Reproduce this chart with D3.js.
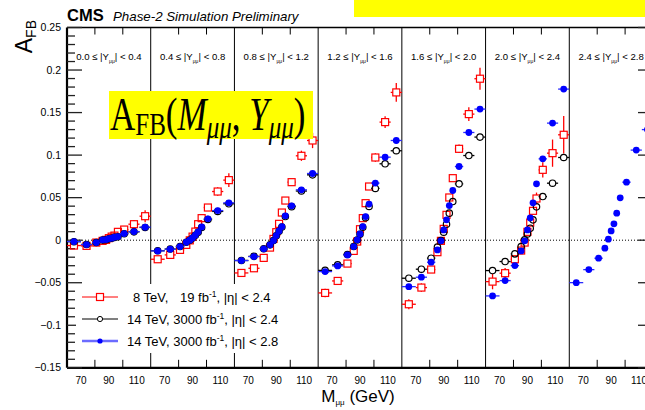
<!DOCTYPE html>
<html>
<head>
<meta charset="utf-8">
<script src="https://d3js.org/d3.v7.min.js"></script>
<style>
body { margin: 0; background: #fff; }
text { font-family: "Liberation Sans", Arial, sans-serif; }
</style>
</head>
<body>
<svg width="645" height="410"></svg>
<script>
// mass bins (GeV) shared by all rapidity panels
var massEdges = [60, 70, 78, 84, 87, 89, 91, 93, 95, 98, 104, 112, 120];
var rapBins = ["0.0", "0.4", "0.8", "1.2", "1.6", "2.0", "2.4", "2.8"];
var xTickLabels = [70, 90, 110];
var xMinorTicks = [80, 100];
var yTicks = [-0.15, -0.1, -0.05, 0, 0.05, 0.1, 0.15, 0.2, 0.25];
var yTickLabels = ["\u22120.15", "\u22120.1", "\u22120.05", "0", "0.05", "0.1", "0.15", "0.2", "0.25"];

// 8 TeV, 19 fb-1 (red squares), one row per |Y| panel
var afb8 = [
  [-0.0063, -0.0067, -0.0028, -0.0008, 0.0004, 0.0024, 0.0042, 0.0054, 0.0098, 0.0125, 0.0188, 0.0282],
  [-0.0224, -0.0173, -0.0114, -0.0055, -0.0002, 0.0042, 0.0101, 0.0188, 0.0259, 0.0384, 0.0572, 0.0706],
  [-0.0385, -0.033, -0.0208, -0.0087, 0.0015, 0.0094, 0.0192, 0.0325, 0.0466, 0.0682, 0.0992, 0.1172],
  [-0.062, -0.0479, -0.0275, -0.0126, -0.0016, 0.0129, 0.0259, 0.0435, 0.0631, 0.0972, 0.1388, 0.1737],
  [-0.0753, -0.0557, -0.0345, -0.0141, -0.0008, 0.0133, 0.0298, 0.0502, 0.0729, 0.1074, 0.1482, 0.1898],
  [-0.0487, -0.0388, -0.0224, -0.0122, -0.0028, 0.0098, 0.0207, 0.0345, 0.049, 0.0827, 0.1023, 0.1239]
];
var err8 = [
  [0.003, 0.003, 0.002, 0.002, 0.002, 0.002, 0.002, 0.002, 0.003, 0.004, 0.005, 0.007],
  [0.003, 0.003, 0.002, 0.002, 0.002, 0.002, 0.002, 0.002, 0.003, 0.004, 0.005, 0.008],
  [0.004, 0.003, 0.003, 0.002, 0.002, 0.002, 0.002, 0.002, 0.003, 0.004, 0.006, 0.009],
  [0.005, 0.004, 0.003, 0.002, 0.002, 0.002, 0.002, 0.003, 0.003, 0.005, 0.007, 0.011],
  [0.006, 0.005, 0.004, 0.003, 0.002, 0.002, 0.003, 0.003, 0.004, 0.005, 0.008, 0.013],
  [0.009, 0.006, 0.004, 0.003, 0.003, 0.003, 0.003, 0.004, 0.007, 0.009, 0.016, 0.022]
];
// 14 TeV, 3000 fb-1, |eta| < 2.4 (black open circles)
var afb14 = [
  [-0.0018, -0.005, -0.0028, 0.0002, 0.0006, 0.0017, 0.0023, 0.0033, 0.004, 0.0075, 0.0098, 0.015],
  [-0.0124, -0.0104, -0.0074, -0.0024, 0.0, 0.0026, 0.0057, 0.0094, 0.015, 0.0243, 0.0338, 0.0428],
  [-0.0238, -0.019, -0.0101, -0.0055, -0.0004, 0.0052, 0.0105, 0.0155, 0.0278, 0.0394, 0.0578, 0.0768],
  [-0.0355, -0.029, -0.0168, -0.0074, 0.0002, 0.007, 0.0152, 0.0265, 0.0396, 0.0608, 0.0898, 0.1051],
  [-0.0447, -0.0341, -0.0212, -0.0082, -0.0004, 0.0094, 0.0188, 0.0318, 0.0454, 0.0662, 0.0995, 0.1212],
  [-0.0357, -0.0251, -0.0161, -0.0075, 0.0004, 0.0074, 0.0141, 0.0239, 0.0392, 0.0513, 0.067, 0.0972]
];
// 14 TeV, 3000 fb-1, |eta| < 2.8 (blue filled circles)
var afb14w = [
  [-0.0016, -0.0052, -0.0028, 0.0004, 0.0007, 0.0019, 0.0024, 0.0035, 0.0042, 0.0078, 0.0101, 0.0153],
  [-0.0126, -0.0106, -0.0075, -0.0024, 0.0, 0.0027, 0.0059, 0.0098, 0.0156, 0.0251, 0.0348, 0.0439],
  [-0.024, -0.0193, -0.0102, -0.0055, -0.0005, 0.0054, 0.0109, 0.016, 0.0286, 0.0404, 0.0592, 0.0784],
  [-0.0369, -0.0302, -0.0173, -0.0075, 0.0004, 0.0074, 0.016, 0.0278, 0.0424, 0.0671, 0.0976, 0.1172],
  [-0.0546, -0.0435, -0.0259, -0.0114, -0.0008, 0.0121, 0.0239, 0.0407, 0.0584, 0.0866, 0.1266, 0.1541],
  [-0.0655, -0.0475, -0.0299, -0.0126, -0.0008, 0.0121, 0.0262, 0.0439, 0.0662, 0.0956, 0.1376, 0.1776],
  [-0.0499, -0.0346, -0.0212, -0.0094, 0.0012, 0.0109, 0.0192, 0.0318, 0.0498, 0.0682, 0.1059, 0.13]
];

var svg = d3.select("svg");
var pLeft = 67, pRight = 653, pTop = 27.5, pBottom = 367.8;
var nPanels = 7;
var panelX = d3.scaleLinear().domain([0, nPanels]).range([pLeft, pRight]);
var pw = panelX(1) - panelX(0);
var massX = d3.scaleLinear().domain([60, 120]).range([0, pw]);
var y = d3.scaleLinear().domain([-0.15, 0.25]).range([pBottom, pTop]);

function mx(panel, m) {
  return panelX(panel) + massX(m);
}

// zero line
svg.append("line")
  .attr("x1", pLeft).attr("x2", pRight)
  .attr("y1", y(0)).attr("y2", y(0))
  .attr("stroke", "#000").attr("stroke-width", 1)
  .attr("stroke-dasharray", "1,2");

// panel separators
d3.range(1, nPanels).forEach(function(i) {
  svg.append("line")
    .attr("x1", panelX(i)).attr("x2", panelX(i))
    .attr("y1", pTop).attr("y2", pBottom)
    .attr("stroke", "#000").attr("stroke-width", 1);
});

// frame
svg.append("line").attr("x1", pLeft).attr("x2", pRight).attr("y1", pTop).attr("y2", pTop)
  .attr("stroke", "#000").attr("stroke-width", 1.5);
svg.append("line").attr("x1", pLeft).attr("x2", pRight).attr("y1", pBottom).attr("y2", pBottom)
  .attr("stroke", "#000").attr("stroke-width", 2.2);
svg.append("line").attr("x1", pLeft).attr("x2", pLeft).attr("y1", pTop).attr("y2", pBottom)
  .attr("stroke", "#000").attr("stroke-width", 2.2);
svg.append("line").attr("x1", pRight).attr("x2", pRight).attr("y1", pTop).attr("y2", pBottom)
  .attr("stroke", "#000").attr("stroke-width", 1.5);

// y ticks (left and right)
var minor = d3.range(-15, 26).map(function(k) { return k / 100; });
minor.forEach(function(v) {
  var isMajor = Math.abs(Math.round(v * 100) % 5) === 0;
  var len = isMajor ? 15 : 8;
  svg.append("line").attr("x1", pLeft).attr("x2", pLeft + len)
    .attr("y1", y(v)).attr("y2", y(v)).attr("stroke", "#222").attr("stroke-width", 1.3);
  svg.append("line").attr("x1", pRight).attr("x2", pRight - len)
    .attr("y1", y(v)).attr("y2", y(v)).attr("stroke", "#222").attr("stroke-width", 1.3);
});
svg.selectAll("text.ytick").data(yTicks).enter().append("text")
  .attr("class", "ytick")
  .attr("x", pLeft - 6).attr("y", function(d) { return y(d) + 3.5; })
  .attr("text-anchor", "end").attr("font-size", 10.5)
  .text(function(d, i) { return yTickLabels[i]; });

// x ticks + labels per panel
d3.range(nPanels).forEach(function(p) {
  xMinorTicks.forEach(function(m) {
    svg.append("line").attr("x1", mx(p, m)).attr("x2", mx(p, m))
      .attr("y1", pBottom).attr("y2", pBottom - 8).attr("stroke", "#000");
    svg.append("line").attr("x1", mx(p, m)).attr("x2", mx(p, m))
      .attr("y1", pTop).attr("y2", pTop + 7).attr("stroke", "#000");
  });
  xTickLabels.forEach(function(m) {
    svg.append("text").attr("x", mx(p, m)).attr("y", 383.5)
      .attr("text-anchor", "middle").attr("font-size", 10).text(m);
  });
  // rapidity label
  var t = svg.append("text").attr("x", panelX(p + 0.5)).attr("y", 60)
    .attr("text-anchor", "middle").attr("font-size", 9.6);
  t.append("tspan").text(rapBins[p] + " \u2264 |Y");
  t.append("tspan").attr("font-size", 5).attr("dy", 3).text("\u03bc\u03bc");
  t.append("tspan").attr("dy", -3).text("| < " + rapBins[p + 1]);
});

// series drawing: error bars leave a gap around the marker
function drawSeries(vals, errs, color, barColor, gap, marker) {
  vals.forEach(function(row, p) {
    var g = svg.append("g");
    row.forEach(function(v, j) {
      var cx = mx(p, (massEdges[j] + massEdges[j + 1]) / 2);
      var cy = y(v);
      var xl = mx(p, massEdges[j]), xr = mx(p, massEdges[j + 1]);
      if (xl < cx - gap) g.append("line").attr("x1", xl).attr("x2", cx - gap).attr("y1", cy).attr("y2", cy)
        .attr("stroke", barColor).attr("stroke-width", 1.3);
      if (xr > cx + gap) g.append("line").attr("x1", cx + gap).attr("x2", xr).attr("y1", cy).attr("y2", cy)
        .attr("stroke", barColor).attr("stroke-width", 1.3);
      if (errs) {
        var e = errs[p][j];
        var yt = y(v + e), yb = y(v - e);
        if (yt < cy - gap) g.append("line").attr("x1", cx).attr("x2", cx).attr("y1", yt).attr("y2", cy - gap)
          .attr("stroke", barColor).attr("stroke-width", 1.3);
        if (yb > cy + gap) g.append("line").attr("x1", cx).attr("x2", cx).attr("y1", cy + gap).attr("y2", yb)
          .attr("stroke", barColor).attr("stroke-width", 1.3);
      }
      marker(g, cx, cy, color);
    });
  });
}
function square(g, cx, cy, c) {
  g.append("rect").attr("x", cx - 3.5).attr("y", cy - 3.5).attr("width", 7).attr("height", 7)
    .attr("fill", "none").attr("stroke", c).attr("stroke-width", 1.2);
}
function openCircle(g, cx, cy, c) {
  g.append("circle").attr("cx", cx).attr("cy", cy).attr("r", 3.2)
    .attr("fill", "none").attr("stroke", c).attr("stroke-width", 1.2);
}
function dot(g, cx, cy, c) {
  g.append("circle").attr("cx", cx).attr("cy", cy).attr("r", 3.4).attr("fill", c);
}

drawSeries(afb8, err8, "#ff0000", "#ff0000", 3.5, square);
drawSeries(afb14, null, "#000", "#000", 3.2, openCircle);
drawSeries(afb14w, null, "#0000ff", "#2a2aff", 0, dot);

// legend
svg.append("rect").attr("x", 76).attr("y", 284).attr("width", 218).attr("height", 69).attr("fill", "#fff");
var legY = [297, 319, 341];
var lg = svg.append("g");
lg.append("line").attr("x1", 82).attr("x2", 118).attr("y1", legY[0]).attr("y2", legY[0]).attr("stroke", "#ff0000");
lg.append("rect").attr("x", 96.5).attr("y", legY[0] - 3.5).attr("width", 7).attr("height", 7)
  .attr("fill", "#fff").attr("stroke", "#ff0000").attr("stroke-width", 1.2);
lg.append("line").attr("x1", 82).attr("x2", 118).attr("y1", legY[1]).attr("y2", legY[1]).attr("stroke", "#000");
lg.append("circle").attr("cx", 100).attr("cy", legY[1]).attr("r", 2.6)
  .attr("fill", "#fff").attr("stroke", "#000").attr("stroke-width", 1);
lg.append("line").attr("x1", 82).attr("x2", 118).attr("y1", legY[2]).attr("y2", legY[2])
  .attr("stroke", "#6b6bff").attr("stroke-width", 2.5);
lg.append("circle").attr("cx", 100).attr("cy", legY[2]).attr("r", 2.6).attr("fill", "#0000ff");

function legText(x, yy, pre, lumi, eta) {
  var t = lg.append("text").attr("x", x).attr("y", yy + 4.5).attr("font-size", 13);
  t.append("tspan").text(pre);
  t.append("tspan").text(lumi + " fb");
  t.append("tspan").attr("dy", -5).attr("font-size", 8.5).text("-1");
  t.append("tspan").attr("dy", 5).text(", |\u03b7| < " + eta);
  return t;
}
lg.append("text").attr("x", 133).attr("y", legY[0] + 4.5).attr("font-size", 13).text("8 TeV,");
legText(180, legY[0], "", "19", "2.4");
legText(127, legY[1], "14 TeV, ", "3000", "2.4");
legText(127, legY[2], "14 TeV, ", "3000", "2.8");

// axis titles
var xt = svg.append("text").attr("x", 358).attr("y", 402).attr("text-anchor", "middle").attr("font-size", 17);
xt.append("tspan").text("M");
xt.append("tspan").attr("font-size", 8).attr("dy", 3).text("\u03bc\u03bc");
xt.append("tspan").attr("dy", -3).text(" (GeV)");

var ytl = svg.append("text").attr("transform", "translate(32,20) rotate(-90)")
  .attr("text-anchor", "end").attr("font-size", 23);
ytl.append("tspan").text("A");
ytl.append("tspan").attr("font-size", 14).attr("dy", 4).text("FB");

// header
svg.append("text").attr("x", 67).attr("y", 21).attr("font-size", 16.5).attr("font-weight", "bold").text("CMS");
svg.append("text").attr("x", 113).attr("y", 21).attr("font-size", 13.3).attr("font-style", "italic")
  .text("Phase-2 Simulation Preliminary");

// yellow boxes
svg.append("rect").attr("x", 354).attr("y", 0).attr("width", 291).attr("height", 17).attr("fill", "#ffff00");
svg.append("rect").attr("x", 109).attr("y", 91).attr("width", 204).attr("height", 48).attr("fill", "#ffff00");
var lbl = svg.append("text").attr("transform", "translate(110,130) scale(1,1.3)")
  .attr("font-size", 35).style("font-family", "'Liberation Serif', 'DejaVu Serif', serif");
lbl.append("tspan").text("A");
lbl.append("tspan").attr("font-size", 25).attr("dy", 4).text("FB");
lbl.append("tspan").attr("dy", -4).text("(");
lbl.append("tspan").attr("font-style", "italic").text("M");
lbl.append("tspan").attr("font-style", "italic").attr("font-size", 25).attr("dy", 6).text("\u03bc\u03bc");
lbl.append("tspan").attr("dy", -6).text(", ");
lbl.append("tspan").attr("font-style", "italic").text("Y");
lbl.append("tspan").attr("font-style", "italic").attr("font-size", 25).attr("dy", 6).text("\u03bc\u03bc");
lbl.append("tspan").attr("dy", -6).text(")");
</script>
</body>
</html>
